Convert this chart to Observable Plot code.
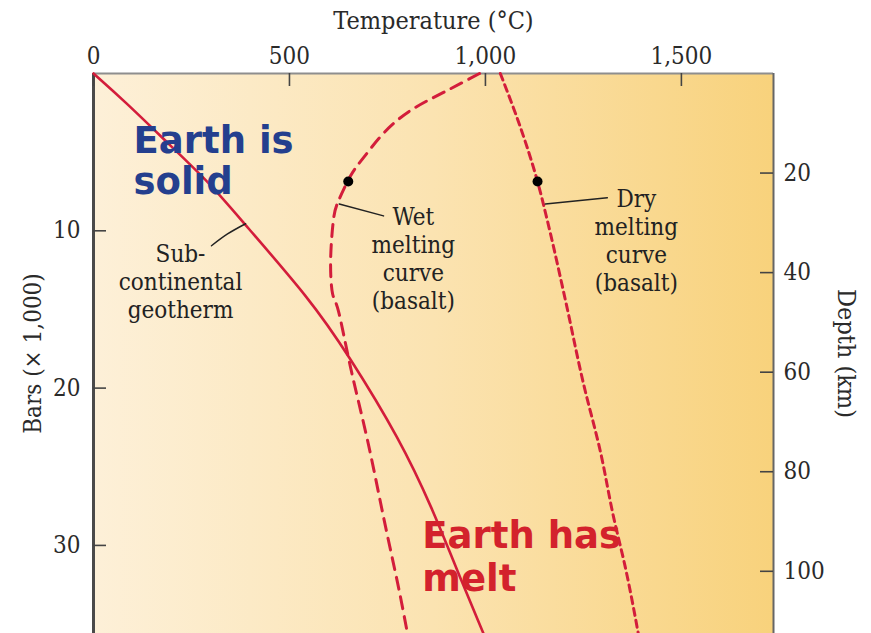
<!DOCTYPE html>
<html>
<head>
<meta charset="utf-8">
<script src="https://cdn.jsdelivr.net/npm/d3@7"></script>
<script src="https://cdn.jsdelivr.net/npm/@observablehq/plot@0.6"></script>
<style>
  html, body { margin: 0; padding: 0; background: #ffffff; }
  #chart svg { display: block; }
</style>
</head>
<body>
<div id="chart"></div>
<script>
// ---- Axis ticks ----
const tempTicks = [0, 500, 1000, 1500];          // °C (top axis)
const barTicks = [10, 20, 30];                    // kbar (left axis)
const depthTicks = [20, 40, 60, 80, 100];         // km (right axis)
const KM_PER_KBAR = 3.16;

// ---- Sub-continental geotherm (T °C, P kbar) ----
const geothermT = [0, 77, 201, 298, 383, 554, 648, 783, 867, 918, 995];
const geothermP = [0, 1.7, 4.7, 7.0, 9.5, 14.4, 17.8, 23.3, 27.8, 31.0, 35.6];

// ---- Wet melting curve (basalt) ----
const wetT = [985, 893, 809, 740, 689, 656, 625, 612, 605, 610, 625, 656, 699, 740, 776, 801];
const wetP = [0, 1.2, 2.35, 3.8, 5.35, 6.5, 8.1, 9.35, 11.9, 14.0, 15.1, 18.7, 23.3, 28.2, 32.4, 35.6];

// ---- Dry melting curve (basalt) ----
const dryT = [1038, 1089, 1133, 1158, 1204, 1250, 1293, 1327, 1357, 1390];
const dryP = [0, 3.4, 6.87, 9.35, 14.4, 19.7, 24.0, 28.2, 31.4, 35.6];

// ---- Marked points on the melting curves ----
const dotT = [650, 1133];
const dotP = [6.87, 6.87];

// ---- Build tables ----
const zipTP = (T, P) => T.map((t, i) => ({T: t, P: P[i]}));
const geotherm = zipTP(geothermT, geothermP);
const wet = zipTP(wetT, wetP);
const dry = zipTP(dryT, dryP);
const dots = zipTP(dotT, dotP);

const X_MAX = 1735, Y_MAX = 35.6;
const W = 871, H = 633, ML = 93, MR = 98, MT = 73, MB = 0;
const plotW = W - ML - MR, plotH = H - MT - MB;
const TICK = 13;
const RED = "#d31d3b";
const serif = "'DejaVu Serif Condensed', 'DejaVu Serif', 'Liberation Serif', serif";
const handFont = "'DejaVu Sans', sans-serif";

const chart = Plot.plot({
  width: W, height: H,
  marginLeft: ML, marginRight: MR, marginTop: MT, marginBottom: MB,
  x: {domain: [0, X_MAX], axis: null},
  y: {domain: [0, Y_MAX], reverse: true, axis: null},
  style: {fontFamily: serif, fontSize: "24px", color: "#2a2a2a", background: "#ffffff"},
  marks: [
    Plot.frame({fill: "url(#bgGrad)", stroke: null}),
    // borders
    Plot.ruleY([0], {stroke: "#8e8e8e", strokeWidth: 2}),
    Plot.ruleX([0], {stroke: "#4a4a4a", strokeWidth: 3}),
    Plot.ruleX([X_MAX], {stroke: "#666", strokeWidth: 2}),
    // ticks (inward)
    Plot.tickX(tempTicks, {x: d => d, insetBottom: plotH - TICK, stroke: "#444", strokeWidth: 1.6}),
    Plot.tickY(barTicks, {y: d => d, insetRight: plotW - TICK, stroke: "#444", strokeWidth: 1.6}),
    Plot.tickY(depthTicks.map(d => d / KM_PER_KBAR), {y: d => d, insetLeft: plotW - TICK, stroke: "#444", strokeWidth: 1.6}),
    // tick labels
    Plot.axisX({anchor: "top", ticks: tempTicks, tickFormat: d3.format(","), tickSize: 0, tickPadding: 10, label: null, fontSize: 24}),
    Plot.axisY({anchor: "left", ticks: barTicks, tickSize: 0, tickPadding: 13, label: null, fontSize: 24}),
    Plot.axisY({anchor: "right", ticks: depthTicks.map(d => d / KM_PER_KBAR), tickFormat: d => Math.round(d * KM_PER_KBAR), tickSize: 0, tickPadding: 10, label: null, fontSize: 24}),
    // axis titles
    Plot.text(["Temperature (°C)"], {frameAnchor: "top", dy: -62, textAnchor: "middle", fontSize: 25, fill: "#2a2a2a"}),
    Plot.text(["Bars (× 1,000)"], {frameAnchor: "left", textAnchor: "middle", dx: -60, rotate: -90, fontSize: 24, fill: "#2a2a2a"}),
    Plot.text(["Depth (km)"], {frameAnchor: "right", textAnchor: "middle", dx: 72, rotate: 90, fontSize: 25, fill: "#2a2a2a"}),
    // curves
    Plot.line(geotherm, {x: "T", y: "P", stroke: RED, strokeWidth: 2.6, curve: "basis"}),
    Plot.line(wet, {x: "T", y: "P", stroke: RED, strokeWidth: 3, strokeDasharray: "12,8", curve: "natural"}),
    Plot.line(dry, {x: "T", y: "P", stroke: RED, strokeWidth: 3, strokeDasharray: "7,5", curve: "monotone-y"}),
    Plot.dot(dots, {x: "T", y: "P", r: 5, fill: "#000", stroke: null}),
    // leader lines
    Plot.line([{T: 301, P: 10.95}, {T: 342, P: 10.2}, {T: 388, P: 9.55}], {x: "T", y: "P", stroke: "#222", strokeWidth: 1.5, curve: "catmull-rom"}),
    Plot.line([{T: 627, P: 8.3}, {T: 740, P: 9.05}], {x: "T", y: "P", stroke: "#222", strokeWidth: 1.5}),
    Plot.line([{T: 1153, P: 8.3}, {T: 1311, P: 7.9}], {x: "T", y: "P", stroke: "#222", strokeWidth: 1.5}),
    // curve labels
    Plot.text(["Sub-\ncontinental\ngeotherm"], {x: () => 222, y: () => 13.2, textAnchor: "middle", lineAnchor: "middle", lineHeight: 1.17, fontSize: 24, fill: "#222"}),
    Plot.text(["Wet\nmelting\ncurve\n(basalt)"], {x: () => 816, y: () => 11.75, textAnchor: "middle", lineAnchor: "middle", lineHeight: 1.17, fontSize: 24, fill: "#222"}),
    Plot.text(["Dry\nmelting\ncurve\n(basalt)"], {x: () => 1385, y: () => 10.6, textAnchor: "middle", lineAnchor: "middle", lineHeight: 1.17, fontSize: 24, fill: "#222"}),
    // hand annotations
    Plot.text(["Earth is\nsolid"], {x: () => 102, y: () => 5.55, textAnchor: "start", lineAnchor: "middle", lineHeight: 1.1, fontSize: 37, fontWeight: "bold", fontFamily: handFont, fill: "#243f8e"}),
    Plot.text(["Earth has\nmelt"], {x: () => 839, y: () => 30.65, textAnchor: "start", lineAnchor: "middle", lineHeight: 1.17, fontSize: 37, fontWeight: "bold", fontFamily: handFont, fill: "#d3222c"})
  ]
});

// gradient background definition
const defs = d3.select(chart).insert("defs", ":first-child");
const grad = defs.append("linearGradient").attr("id", "bgGrad").attr("x1", "0").attr("x2", "1").attr("y1", "0").attr("y2", "0");
grad.append("stop").attr("offset", "0%").attr("stop-color", "#fdf0d8");
grad.append("stop").attr("offset", "50%").attr("stop-color", "#fbe3b1");
grad.append("stop").attr("offset", "100%").attr("stop-color", "#f8d27c");

document.getElementById("chart").appendChild(chart);
</script>
</body>
</html>
